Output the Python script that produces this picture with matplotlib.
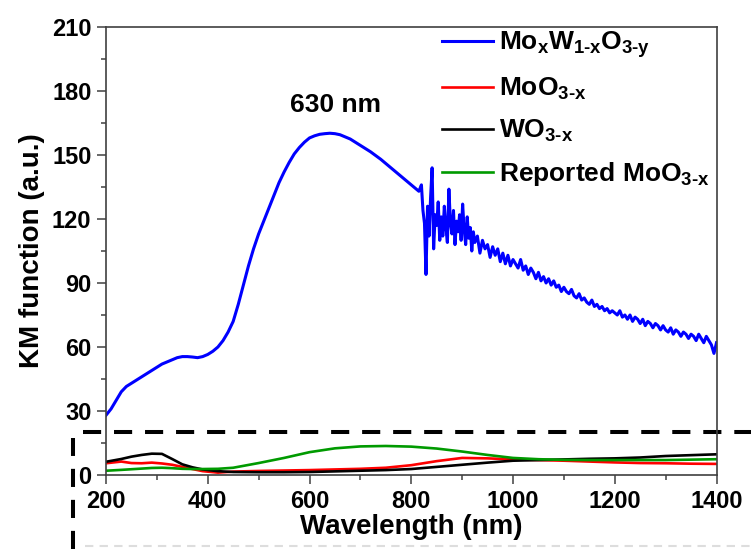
import numpy as np
import matplotlib
matplotlib.use('Agg')
import matplotlib.pyplot as plt
from matplotlib.lines import Line2D
from matplotlib.ticker import MultipleLocator

plt.rcParams['font.family'] = ['Liberation Sans', 'DejaVu Sans']
plt.rcParams['font.weight'] = 'bold'
plt.rcParams['axes.labelweight'] = 'bold'
plt.rcParams['mathtext.fontset'] = 'custom'
plt.rcParams['mathtext.rm'] = 'Liberation Sans:bold'
plt.rcParams['mathtext.it'] = 'Liberation Sans:bold'
plt.rcParams['mathtext.bf'] = 'Liberation Sans:bold'
plt.rcParams['mathtext.default'] = 'rm'

# MoxW1-xO3-y  (smooth part, then the noisy part past ~820 nm)
wl_mix = [200, 210, 220, 230, 240, 250, 260, 270, 280, 290, 300, 310, 320, 330, 340,
          350, 360, 370, 380, 390, 400, 410, 420, 430, 440, 450, 460, 470, 480, 490,
          500, 510, 520, 530, 540, 550, 560, 570, 580, 590, 600, 610, 620, 630, 640,
          650, 660, 670, 680, 690, 700, 720, 740, 760, 780, 800, 815,
          820, 823, 826, 829, 832, 835, 838, 841, 844, 847, 850, 853, 856, 859, 862,
          865, 868, 871, 874, 877, 880, 883, 886, 889, 892, 895, 898, 901, 904, 907,
          910, 913, 916, 919, 922, 925, 930, 935, 940, 945, 950, 955, 960, 965,
          970, 975, 980, 985, 990, 995, 1000,
          1005, 1010, 1015, 1020, 1025, 1030, 1035, 1040, 1045, 1050, 1055, 1060,
          1065, 1070, 1075, 1080, 1085, 1090, 1095, 1100, 1105, 1110, 1115, 1120,
          1125, 1130, 1135, 1140, 1145, 1150, 1155, 1160, 1165, 1170, 1175, 1180,
          1185, 1190, 1195, 1200, 1205, 1210, 1215, 1220, 1225, 1230, 1235, 1240,
          1245, 1250, 1255, 1260, 1265, 1270, 1275, 1280, 1285, 1290, 1295, 1300,
          1305, 1310, 1315, 1320, 1325, 1330, 1335, 1340, 1345, 1350, 1355, 1360,
          1365, 1370, 1375, 1380, 1385, 1390, 1395, 1400]
km_mix = [28, 31, 35, 39, 41.5, 43, 44.5, 46, 47.5, 49, 50.5, 52, 53, 54, 55,
          55.5, 55.5, 55.3, 55, 55.5, 56.5, 58, 60, 63, 67, 72, 80, 89, 98, 106,
          113, 119, 125, 131, 137, 142, 146.5, 150.5, 153.5, 156, 158, 159, 159.7, 160, 160.2,
          160, 159.5, 158.5, 157.5, 156, 154.5, 151.5, 148, 144, 140, 136, 133,
          136, 124, 118, 94, 126, 112, 130, 144, 106, 122, 117, 128, 110, 121, 112,
          126, 116, 109, 134, 118, 113, 124, 108, 119, 114, 122, 110, 127, 115, 108,
          121, 111, 116, 105, 114, 109, 112, 104, 110, 106, 108, 102, 107, 103,
          106, 100, 104, 99, 103, 98, 101,
          99, 97, 101, 96, 98, 94, 97, 95, 92, 95, 91, 93,
          90, 92, 89, 91, 88, 89, 86, 88, 86, 85, 87, 84,
          83, 85, 82, 83, 81, 80, 82, 79, 80, 78, 79, 77,
          78, 76, 77, 76, 75, 77, 74, 75, 73, 75, 72, 74,
          73, 71, 73, 70, 72, 71, 69, 71, 70, 68, 70, 68,
          67, 69, 66, 68, 67, 65, 67, 66, 64, 66, 65, 63,
          66, 64, 62, 65, 63, 61, 57, 62]

wl_low = [200, 230, 250, 270, 290, 310, 330, 350, 370, 390, 420, 450, 500, 550, 600,
          650, 700, 750, 800, 850, 900, 950, 1000, 1050, 1100, 1150, 1200, 1250, 1300,
          1350, 1400]
km_moo3 = [5.5, 6.3, 5.6, 5.5, 5.8, 5.4, 4.8, 3.8, 2.8, 1.8, 1.1, 1.6, 1.9, 2.1, 2.3,
           2.6, 2.9, 3.4, 4.6, 6.5, 8.0, 7.8, 7.3, 7.0, 6.7, 6.3, 5.9, 5.6, 5.5,
           5.3, 5.2]
km_wo3 = [6.2, 7.5, 8.6, 9.4, 10.0, 9.9, 7.5, 5.0, 3.6, 2.6, 1.8, 1.4, 1.3, 1.3, 1.4,
          1.7, 2.0, 2.3, 2.8, 3.8, 4.8, 5.8, 6.7, 7.0, 7.3, 7.6, 7.8, 8.2, 8.9,
          9.3, 9.7]
km_rep = [2.0, 2.4, 2.7, 3.0, 3.3, 3.4, 3.2, 2.9, 2.8, 2.8, 2.9, 3.4, 5.6, 8.0, 10.7,
          12.5, 13.4, 13.6, 13.3, 12.4, 11.0, 9.4, 8.0, 7.4, 7.1, 7.0, 7.0, 7.0, 7.0,
          7.2, 7.4]

labels = [r'Mo$_{x}$W$_{1\text{-}x}$O$_{3\text{-}y}$', r'MoO$_{3\text{-}x}$',
          r'WO$_{3\text{-}x}$', r'Reported MoO$_{3\text{-}x}$']
colors = ['#0000ff', '#ff0000', '#000000', '#009a00']
cut_level = 20
peak_text = '630 nm'
peak_pos = (652, 173.5)

fig = plt.figure(figsize=(7.51, 5.49), dpi=100)
ax = fig.add_axes([106/751, 1 - 475/549, 610.5/751, 448/549])

ax.plot(wl_mix, km_mix, color=colors[0], lw=2.2, label=labels[0])
ax.plot(wl_low, km_moo3, color=colors[1], lw=1.9, label=labels[1])
ax.plot(wl_low, km_wo3, color=colors[2], lw=1.9, label=labels[2])
ax.plot(wl_low, km_rep, color=colors[3], lw=1.9, label=labels[3])

ax.set_xlim(200, 1400)
ax.set_ylim(0, 210)
ax.xaxis.set_major_locator(MultipleLocator(200))
ax.xaxis.set_minor_locator(MultipleLocator(100))
ax.yaxis.set_major_locator(MultipleLocator(30))
ax.yaxis.set_minor_locator(MultipleLocator(15))
ax.tick_params(which='major', direction='out', length=6.5, width=1.1,
               labelsize=17, pad=4, color='#404040')
ax.tick_params(which='minor', direction='out', length=3.5, width=1.1, color='#404040')
for s in ax.spines.values():
    s.set_color('#404040')
    s.set_linewidth(1.2)

ax.set_xlabel('Wavelength (nm)', fontsize=20, labelpad=1)
ax.set_ylabel('KM function (a.u.)', fontsize=20, labelpad=5)
ax.text(peak_pos[0], peak_pos[1], peak_text, fontsize=19, ha='center', va='center')

# dashed cut line
ax.axhline(cut_level, xmin=-0.038, xmax=1.06, color='black', lw=2.9,
           dashes=(4.5, 3.2), clip_on=False)
fig.add_artist(Line2D([72.7/751, 72.7/751], [0, 1 - 438/549], color='black',
                      lw=2.9, dashes=(4.5, 3.2)))
fig.add_artist(Line2D([85/751, 1], [3/549, 3/549], color='#dddddd',
                      lw=1.5, dashes=(4, 3)))

ax.legend(loc='upper left', bbox_to_anchor=(0.55, 0.995), frameon=False,
          fontsize=19, handlelength=1.95, handletextpad=0.2, borderpad=0,
          borderaxespad=0, labelspacing=0.6)

plt.savefig('out.png', dpi=100)
